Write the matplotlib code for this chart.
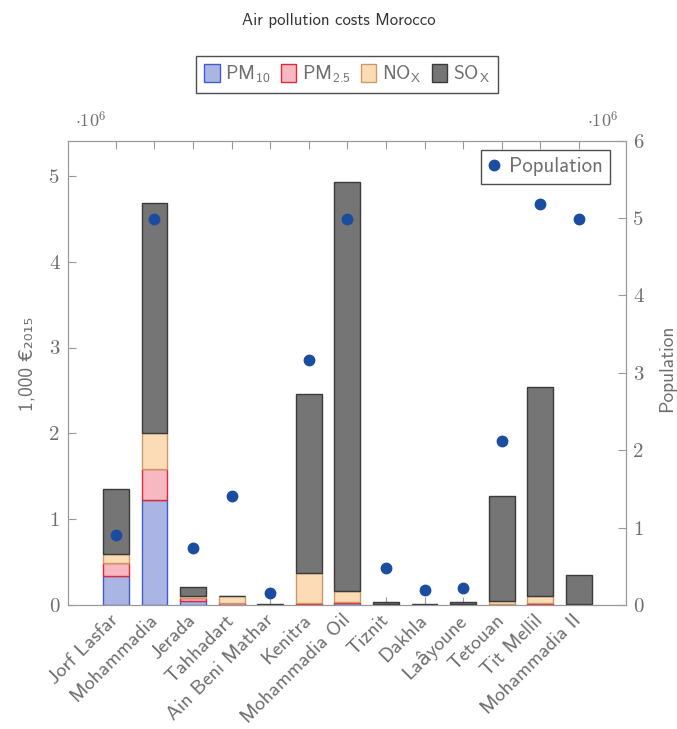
import matplotlib.pyplot as plt
import numpy as np

# air pollution costs per plant, in 1e6 x 1,000 EUR2015
plants = ['Jorf Lasfar', 'Mohammadia', 'Jerada', 'Tahhadart', 'Ain Beni Mathar',
          'Kenitra', 'Mohammadia Oil', 'Tiznit', 'Dakhla', 'Laâyoune',
          'Tetouan', 'Tit Mellil', 'Mohammadia II']
pm10 = [0.34, 1.22, 0.05, 0.005, 0.001, 0.01, 0.02, 0.005, 0.002, 0.005, 0.005, 0.01, 0.002]
pm25 = [0.15, 0.36, 0.03, 0.015, 0.001, 0.01, 0.01, 0.002, 0.001, 0.002, 0.01, 0.01, 0.002]
nox = [0.11, 0.42, 0.02, 0.08, 0.001, 0.35, 0.13, 0.003, 0.002, 0.003, 0.035, 0.09, 0.006]
sox = [0.75, 2.68, 0.11, 0.005, 0.004, 2.09, 4.77, 0.02, 0.01, 0.03, 1.22, 2.43, 0.34]
population = [0.9, 4.99, 0.74, 1.41, 0.155, 3.17, 4.99, 0.48, 0.19, 0.22, 2.12, 5.18, 4.99]

plt.rcParams['font.family'] = ['cmss10', 'DejaVu Sans']
plt.rcParams['axes.formatter.use_mathtext'] = True
plt.rcParams['mathtext.fontset'] = 'cm'

grey = '#6e6e6e'
spine = '#999999'

fig = plt.figure(figsize=(6.77, 7.29), dpi=100)
ax = fig.add_axes([68 / 677, 1 - 605 / 729, 558 / 677, 464.3 / 729])
ax2 = ax.twinx()

x = np.arange(len(plants))
series = [
    (pm10, '#aab5e3', '#3f5bd0', r'PM$\mathregular{_{10}}$'),
    (pm25, '#f6b8c1', '#e3263a', r'PM$\mathregular{_{2.5}}$'),
    (nox, '#fcdcb6', '#c99a66', r'NO$\mathregular{_X}$'),
    (sox, '#757575', '#3a3a3a', r'SO$\mathregular{_X}$'),
]
bottom = np.zeros(len(plants))
for vals, face, edge, lab in series:
    ax.bar(x, vals, 0.67, bottom=bottom, color=face, edgecolor=edge,
           linewidth=1.0, label=lab, zorder=2)
    bottom += np.array(vals)

ax2.plot(x, population, 'o', color='#1a4da0', ms=7.5, label='Population', zorder=3)

ax.set_xlim(-1.24, 13.22)
ax.set_ylim(0, 5.41)
ax2.set_ylim(0, 6)

ax.set_xticks(x)
ax.set_xticklabels(plants, rotation=45, ha='right', va='center', rotation_mode='anchor',
                   fontsize=14.5, color=grey)
ax.set_yticks(range(6))
ax.set_yticklabels([str(i) for i in range(6)], fontfamily='cmr10', fontsize=15, color=grey)
ax2.set_yticks(range(7))
ax2.set_yticklabels([str(i) for i in range(7)], fontfamily='cmr10', fontsize=15, color=grey)

ax.tick_params(axis='x', direction='in', top=True, length=6, color=spine, pad=9)
ax.tick_params(axis='y', direction='in', length=6, color=spine, pad=6)
ax2.tick_params(axis='y', direction='in', length=6, color=spine, pad=5)

for a in (ax, ax2):
    for s in a.spines.values():
        s.set_color(spine)

ax.set_ylabel('1,000 €₂₀₁₅', fontsize=14, color=grey)
ax.yaxis.set_label_coords(-0.057, 0.52)
ax2.set_ylabel('Population', fontsize=14, color=grey)
ax2.yaxis.set_label_coords(1.057, 0.51)

fig.text(75 / 677, 1 - 120 / 729, r'$\cdot 10^6$', fontsize=13, color=grey, va='center')
fig.text(619 / 677, 1 - 120 / 729, r'$\cdot 10^6$', fontsize=13, color=grey,
         va='center', ha='right')
fig.text(0.5, 1 - 20 / 729, 'Air pollution costs Morocco', fontsize=12,
         color='#333333', ha='center', va='center')

leg = ax.legend(loc='lower center', bbox_to_anchor=(0.5, 1.103), ncol=4,
                fontsize=14, frameon=True, fancybox=False, borderaxespad=0,
                handlelength=0.8, handleheight=1.0, handletextpad=0.3,
                columnspacing=0.5, borderpad=0.4)
leg.get_frame().set_edgecolor('#222222')
for t in leg.get_texts():
    t.set_color(grey)

leg2 = ax2.legend(loc='upper right', bbox_to_anchor=(0.971, 0.98), fontsize=15,
                  frameon=True, fancybox=False, borderaxespad=0,
                  handlelength=0.6, handletextpad=0.4, borderpad=0.35)
leg2.get_frame().set_edgecolor('#222222')
for t in leg2.get_texts():
    t.set_color(grey)

plt.savefig('out.png', dpi=100)
